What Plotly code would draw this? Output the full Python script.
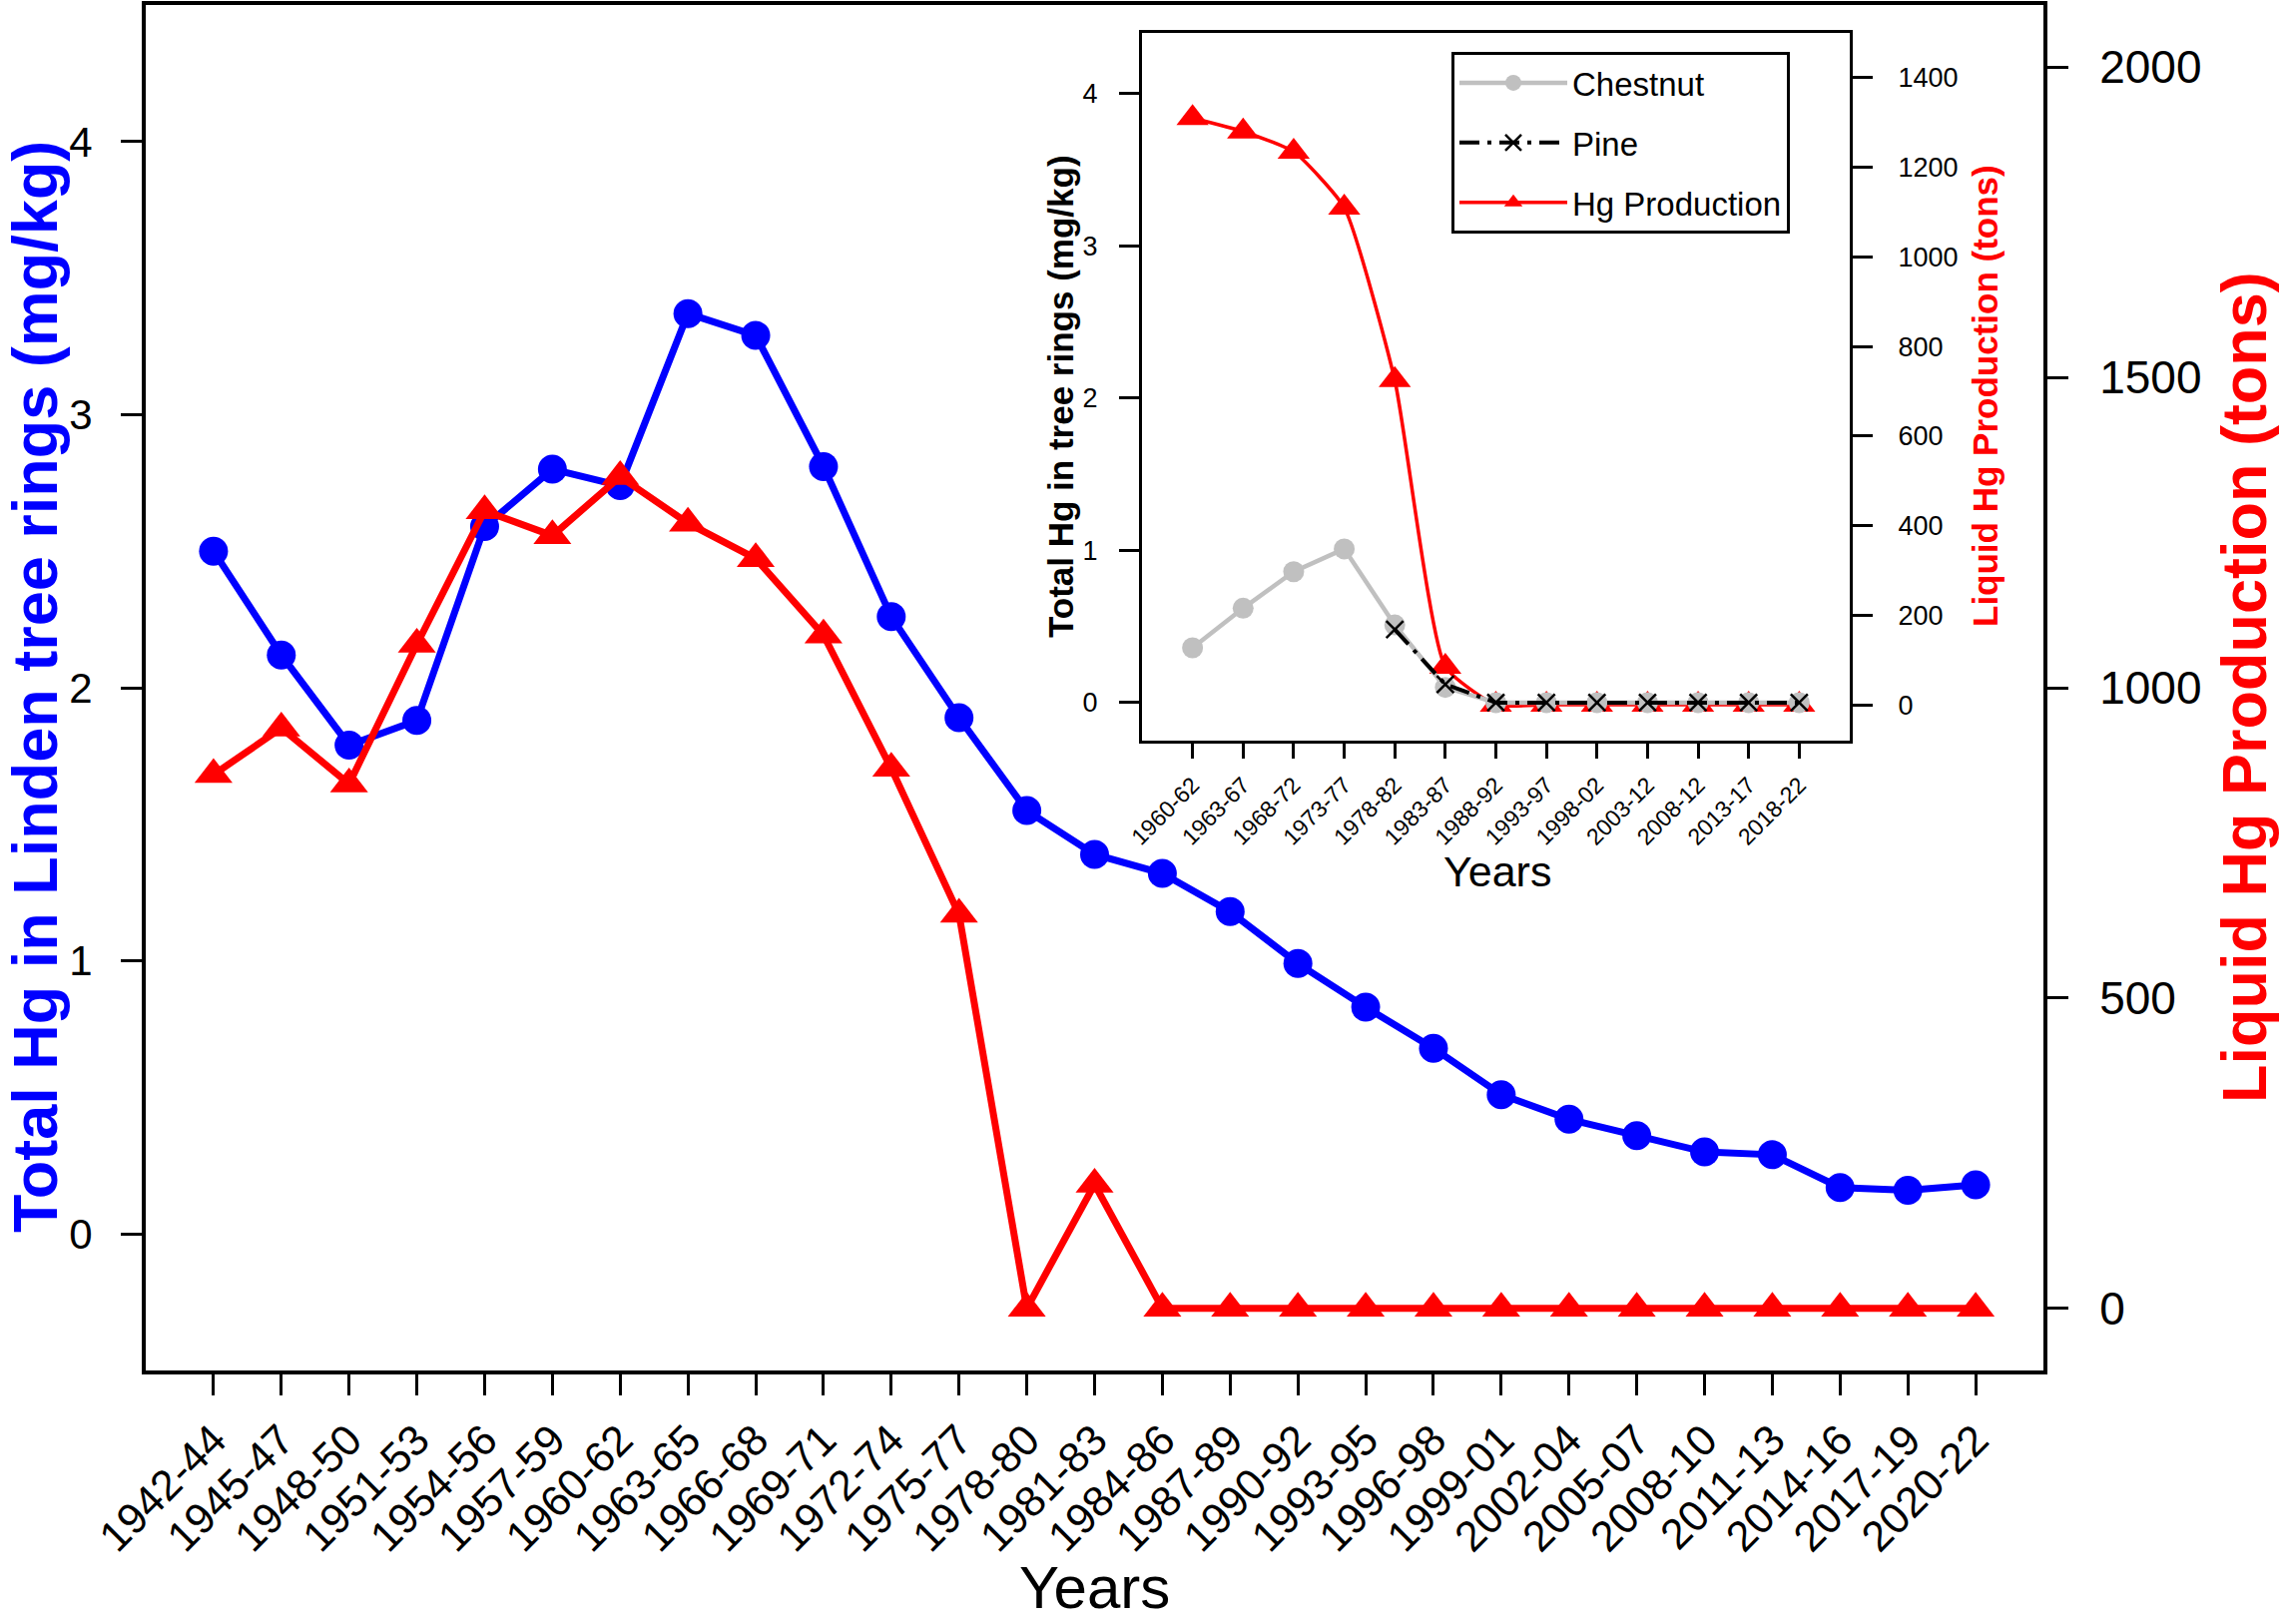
import plotly.graph_objects as go

# main panel data
periods = ['1942-44', '1945-47', '1948-50', '1951-53', '1954-56', '1957-59', '1960-62',
           '1963-65', '1966-68', '1969-71', '1972-74', '1975-77', '1978-80', '1981-83',
           '1984-86', '1987-89', '1990-92', '1993-95', '1996-98', '1999-01', '2002-04',
           '2005-07', '2008-10', '2011-13', '2014-16', '2017-19', '2020-22']
linden_hg = [2.50, 2.12, 1.79, 1.88, 2.59, 2.80, 2.74, 3.37, 3.29, 2.81, 2.26, 1.89, 1.55,
             1.39, 1.32, 1.18, 0.99, 0.83, 0.68, 0.51, 0.42, 0.36, 0.30, 0.29, 0.17, 0.16, 0.18]
hg_production = [860, 935, 845, 1070, 1285, 1245, 1340, 1265, 1208, 1085, 870, 635, 0,
                 200, 0, 0, 0, 0, 0, 0, 0, 0, 0, 0, 0, 0, 0]

# inset data
inset_periods = ['1960-62', '1963-67', '1968-72', '1973-77', '1978-82', '1983-87', '1988-92',
                 '1993-97', '1998-02', '2003-12', '2008-12', '2013-17', '2018-22']
chestnut_hg = [0.36, 0.62, 0.86, 1.01, 0.51, 0.10, 0, 0, 0, 0, 0, 0, 0]
pine_hg = [None, None, None, None, 0.48, 0.12, 0, 0, 0, 0, 0, 0, 0]
inset_production = [1310, 1280, 1235, 1110, 725, 85, 0, 0, 0, 0, 0, 0, 0]

W, H = 2288, 1627
L, R, T, B = 146, 2047, 5, 1373
FONT = 'Arial, Liberation Sans, sans-serif'
BLUE, RED, GREY = '#0000FF', '#FF0000', '#C0C0C0'


def px_x(p):
    return (p - L) / (R - L)


def px_y(p):
    return (B - p) / (B - T)


fig = go.Figure()

fig.add_trace(go.Scatter(x=periods, y=linden_hg, mode='lines+markers',
                         line=dict(color=BLUE, width=7),
                         marker=dict(symbol='circle', size=29, color=BLUE),
                         xaxis='x', yaxis='y', showlegend=False))
fig.add_trace(go.Scatter(x=periods, y=hg_production, mode='lines+markers',
                         line=dict(color=RED, width=7),
                         marker=dict(symbol='triangle-up', size=33, color=RED),
                         xaxis='x', yaxis='y2', showlegend=False))

# inset: production on the base axis so the tree-ring series sit on top of it
fig.add_trace(go.Scatter(x=inset_periods, y=inset_production, mode='lines+markers',
                         name='Hg Production', legendrank=3, legendgroup='c',
                         line=dict(color=RED, width=3.5, shape='spline', smoothing=0.5),
                         marker=dict(symbol='triangle-up', size=28, color=RED),
                         xaxis='x2', yaxis='y3'))
fig.add_trace(go.Scatter(x=inset_periods, y=chestnut_hg, mode='lines+markers',
                         name='Chestnut', legendrank=1, legendgroup='a',
                         line=dict(color=GREY, width=4.5),
                         marker=dict(symbol='circle', size=21, color=GREY),
                         xaxis='x2', yaxis='y4'))
fig.add_trace(go.Scatter(x=inset_periods, y=pine_hg, mode='lines+markers',
                         name='Pine', legendrank=2, legendgroup='b',
                         line=dict(color='black', width=4, dash='longdashdot'),
                         marker=dict(symbol='x-thin-open', size=17,
                                     line=dict(color='black', width=2.5)),
                         xaxis='x2', yaxis='y4'))

axis_common = dict(showgrid=False, zeroline=False, showline=True, linecolor='black',
                   ticks='outside', tickcolor='black')

ix0, ix1 = px_x(1144), px_x(1853)
iy0, iy1 = px_y(742), px_y(33)

fig.update_layout(
    width=W, height=H,
    margin=dict(l=L, r=W - R, t=T, b=H - B, autoexpand=False),
    paper_bgcolor='white', plot_bgcolor='rgba(0,0,0,0)',
    font=dict(family=FONT, color='black'),
    xaxis=dict(axis_common, type='category', domain=[0, 1], anchor='y',
               range=[-1, len(periods)], mirror=True, linewidth=4, ticklen=21,
               tickwidth=3, tickangle=-45, tickfont=dict(size=43), ticklabelstandoff=2),
    yaxis=dict(axis_common, domain=[0, 1], anchor='x', range=[-0.5, 4.5],
               tickvals=[0, 1, 2, 3, 4], linewidth=4, ticklen=21, tickwidth=3,
               tickfont=dict(size=42), ticklabelstandoff=20),
    yaxis2=dict(axis_common, overlaying='y', side='right', anchor='x',
                range=[-100, 2100], tickvals=[0, 500, 1000, 1500, 2000],
                linewidth=4, ticklen=21, tickwidth=3,
                tickfont=dict(size=46), ticklabelstandoff=22),
    xaxis2=dict(axis_common, type='category', domain=[ix0, ix1], anchor='y3',
                range=[-1, len(inset_periods)], mirror=True, linewidth=3,
                ticklen=15, tickwidth=2.5, tickangle=-45,
                tickfont=dict(size=23), ticklabelstandoff=4),
    yaxis3=dict(axis_common, domain=[iy0, iy1], anchor='x2', side='right',
                range=[-80, 1500], tickvals=list(range(0, 1401, 200)),
                linewidth=3, ticklen=20, tickwidth=2.5,
                tickfont=dict(size=27), ticklabelstandoff=20),
    yaxis4=dict(axis_common, overlaying='y3', side='left', anchor='x2',
                range=[-0.25, 4.4], tickvals=[0, 1, 2, 3, 4],
                linewidth=3, ticklen=20, tickwidth=2.5,
                tickfont=dict(size=27), ticklabelstandoff=16),
    legend=dict(x=px_x(1454), y=px_y(52), xanchor='left', yanchor='top',
                bordercolor='black', borderwidth=3, bgcolor='white',
                font=dict(size=33), traceorder='grouped', tracegroupgap=14,
                itemwidth=108),
)

titles = [
    ('Years', 1096, 1626, 0, 60, 'black', False, 'bottom'),
    ('Total Hg in Linden tree rings (mg/kg)', 35, 688, -90, 63, BLUE, True, 'middle'),
    ('Liquid Hg Production (tons)', 2248, 689, -90, 63, RED, True, 'middle'),
    ('Years', 1500, 873, 0, 43, 'black', False, 'middle'),
    ('Total Hg in tree rings (mg/kg)', 1062, 397, -90, 35, 'black', True, 'middle'),
    ('Liquid Hg Production (tons)', 1988, 397, -90, 35, RED, True, 'middle'),
]
for text, x, y, ang, size, color, bold, ya in titles:
    fig.add_annotation(text=text, x=px_x(x), y=px_y(y), xref='paper', yref='paper',
                       xanchor='center', yanchor=ya, textangle=ang, showarrow=False,
                       font=dict(size=size, color=color, weight='bold' if bold else 'normal'))

# page body has a default 8px margin; drop it so the figure sits at the window corner
fig.write_html('out.html', config={'displayModeBar': False},
               post_script="document.body.style.margin='0';")
